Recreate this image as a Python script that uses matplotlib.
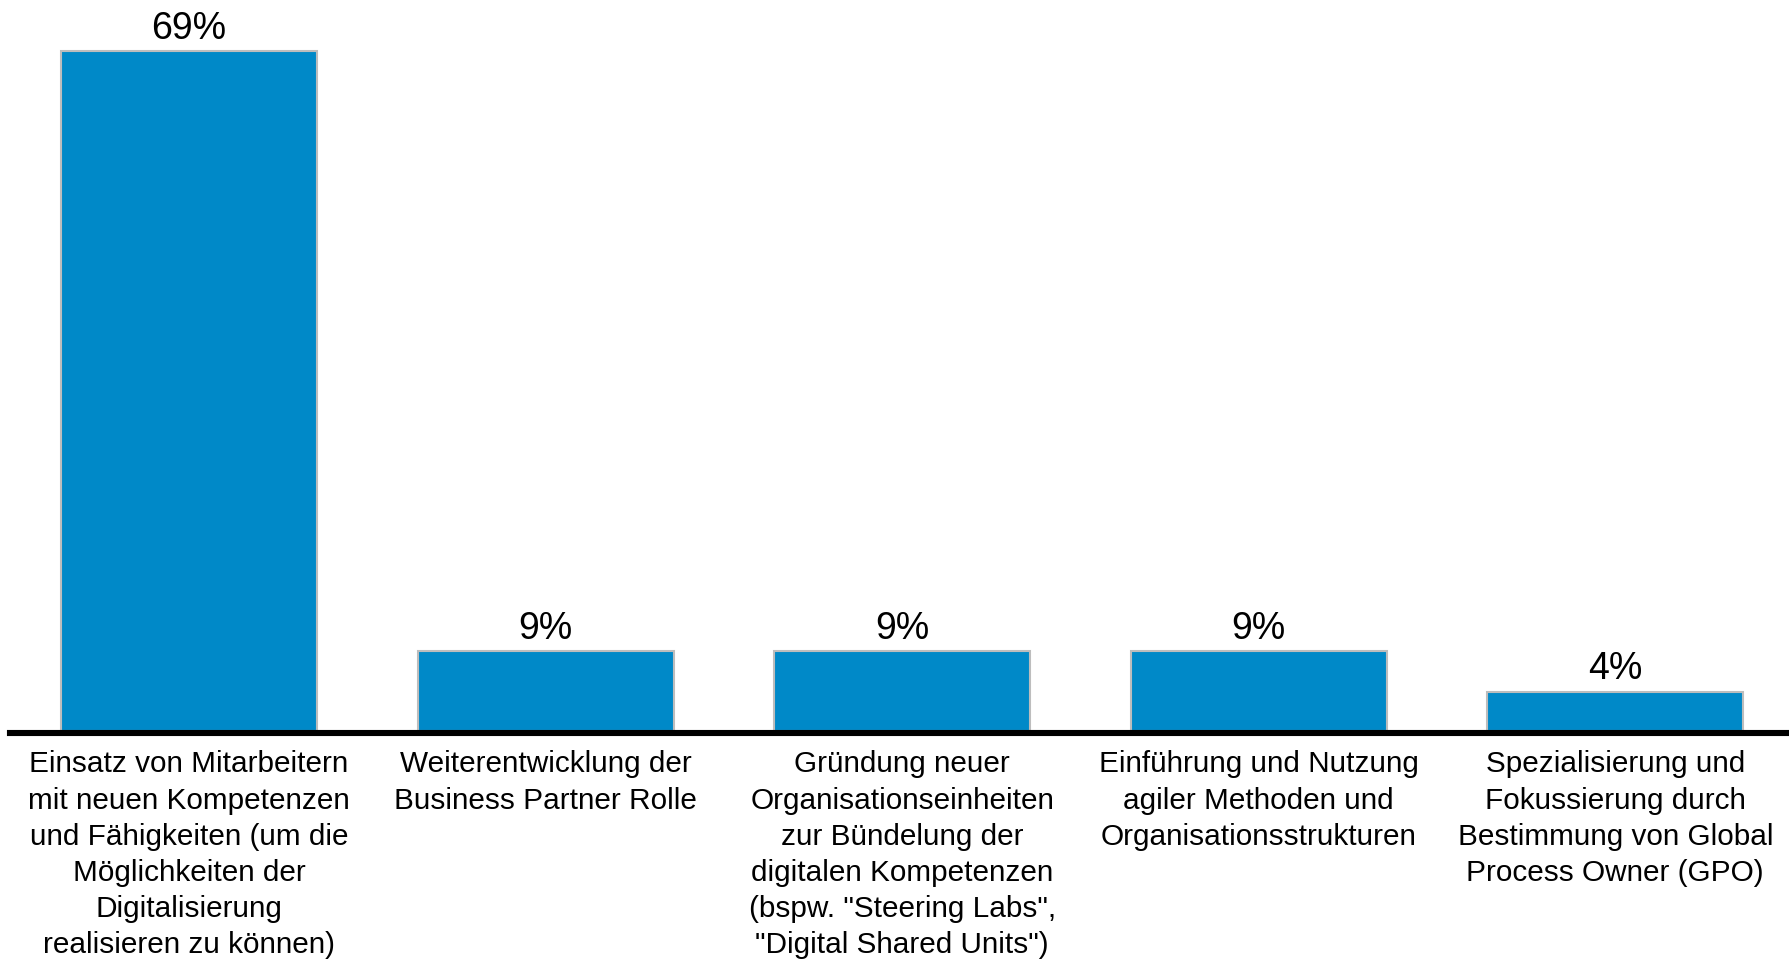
import matplotlib.pyplot as plt

plt.rcParams["font.family"] = ["Liberation Sans", "DejaVu Sans"]

categories = [
    "Einsatz von Mitarbeitern\nmit neuen Kompetenzen\nund Fähigkeiten (um die\nMöglichkeiten der\nDigitalisierung\nrealisieren zu können)",
    "Weiterentwicklung der\nBusiness Partner Rolle",
    "Gründung neuer\nOrganisationseinheiten\nzur Bündelung der\ndigitalen Kompetenzen\n(bspw. \"Steering Labs\",\n\"Digital Shared Units\")",
    "Einführung und Nutzung\nagiler Methoden und\nOrganisationsstrukturen",
    "Spezialisierung und\nFokussierung durch\nBestimmung von Global\nProcess Owner (GPO)",
]
# bar heights (percent)
shares = [69, 8.1, 8.1, 8.1, 4]
value_labels = ["69%", "9%", "9%", "9%", "4%"]

BAR = "#0089C8"
EDGE = "#BDBDBD"

fig = plt.figure(figsize=(17.9, 9.6), dpi=100)
ax = fig.add_axes([10 / 1790, 1 - 731 / 960, 1 - 10 / 1790, 731 / 960])

xs = list(range(len(categories)))
ax.bar(xs, shares, width=0.718, color=BAR, edgecolor=EDGE, linewidth=1.5, zorder=2)

ax.set_xlim(-0.502, 4.49)
ax.set_ylim(0, 731 / (680 / 69))

# thick baseline just under the bars
ax.axhline(-0.25, color="black", lw=4.4, clip_on=False, zorder=3)

for x, v, lab in zip(xs, shares, value_labels):
    ax.annotate(lab, (x, v), xytext=(0, 9.0), textcoords="offset points",
                ha="center", va="baseline", fontsize=27, color="black")

for x, cat in zip(xs, categories):
    ax.annotate(cat, (x, 0), xytext=(0, -14.0), textcoords="offset points",
                ha="center", va="top", fontsize=21.4, color="black",
                linespacing=1.37, annotation_clip=False)

ax.axis("off")

fig.savefig("out.png", dpi=100, facecolor="white")
